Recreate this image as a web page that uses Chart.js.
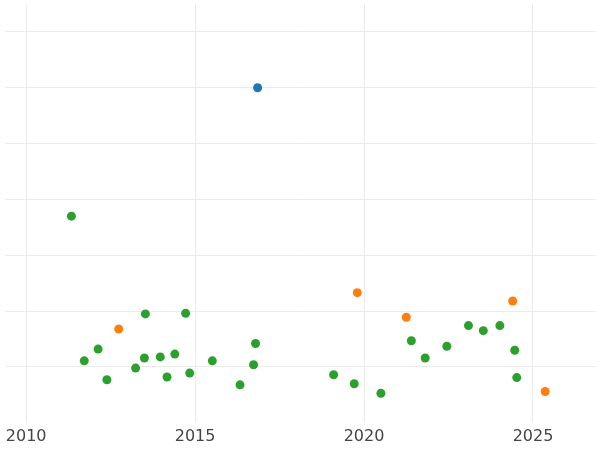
<!DOCTYPE html>
<html>
<head>
<script src="https://cdn.jsdelivr.net/npm/chart.js@4"></script>
<style>
html, body { margin: 0; padding: 0; background: #fff; }
#wrap { width: 600px; height: 450px; }
</style>
</head>
<body>
<div id="wrap"><canvas id="chart"></canvas></div>
<script>
const blueX = [2016.85];
const blueY = [6.0];
const orangeX = [2012.74, 2019.80, 2021.25, 2024.40, 2025.36];
const orangeY = [1.68, 2.33, 1.89, 2.18, 0.56];
const greenX = [2011.34, 2011.72, 2012.13, 2012.39, 2013.24, 2013.50, 2013.53, 2013.97, 2014.17, 2014.40,
    2014.72, 2014.84, 2015.51, 2016.33, 2016.73, 2016.79, 2019.10, 2019.71, 2020.50, 2021.40,
    2021.81, 2022.45, 2023.09, 2023.53, 2024.02, 2024.46, 2024.52];
const greenY = [3.70, 1.11, 1.32, 0.77, 0.98, 1.16, 1.95, 1.18, 0.82, 1.23,
    1.96, 0.89, 1.11, 0.68, 1.04, 1.42, 0.86, 0.70, 0.53, 1.47,
    1.16, 1.37, 1.74, 1.65, 1.74, 1.30, 0.81];

function pts(xs, ys) {
    return xs.map((x, i) => ({ x: x, y: ys[i] }));
}

const ctx = document.getElementById('chart').getContext('2d');
new Chart(ctx, {
    type: 'scatter',
    data: {
        datasets: [
            { data: pts(greenX, greenY), backgroundColor: '#2ca02c', borderWidth: 0, pointRadius: 4.5 },
            { data: pts(orangeX, orangeY), backgroundColor: '#ff7f0e', borderWidth: 0, pointRadius: 4.5 },
            { data: pts(blueX, blueY), backgroundColor: '#1f77b4', borderWidth: 0, pointRadius: 4.5 }
        ]
    },
    options: {
        responsive: true,
        maintainAspectRatio: false,
        animation: false,
        layout: { padding: 0 },
        plugins: { legend: { display: false }, tooltip: { enabled: false } },
        scales: {
            x: {
                type: 'linear',
                min: 2009.36,
                max: 2026.85,
                afterBuildTicks: function(axis) {
                    axis.ticks = [2010, 2015, 2020, 2025].map(v => ({ value: v }));
                },
                grid: { color: '#ebebeb', drawTicks: false },
                border: { display: false },
                ticks: { color: '#444', font: { family: 'DejaVu Sans', size: 16 }, padding: 4,
                    callback: v => String(v) }
            },
            y: {
                min: 0,
                max: 7.49,
                afterBuildTicks: function(axis) {
                    axis.ticks = [1, 2, 3, 4, 5, 6, 7].map(v => ({ value: v }));
                },
                grid: { color: '#ebebeb', drawTicks: false },
                border: { display: false },
                ticks: { display: false }
            }
        }
    }
});
</script>
</body>
</html>
